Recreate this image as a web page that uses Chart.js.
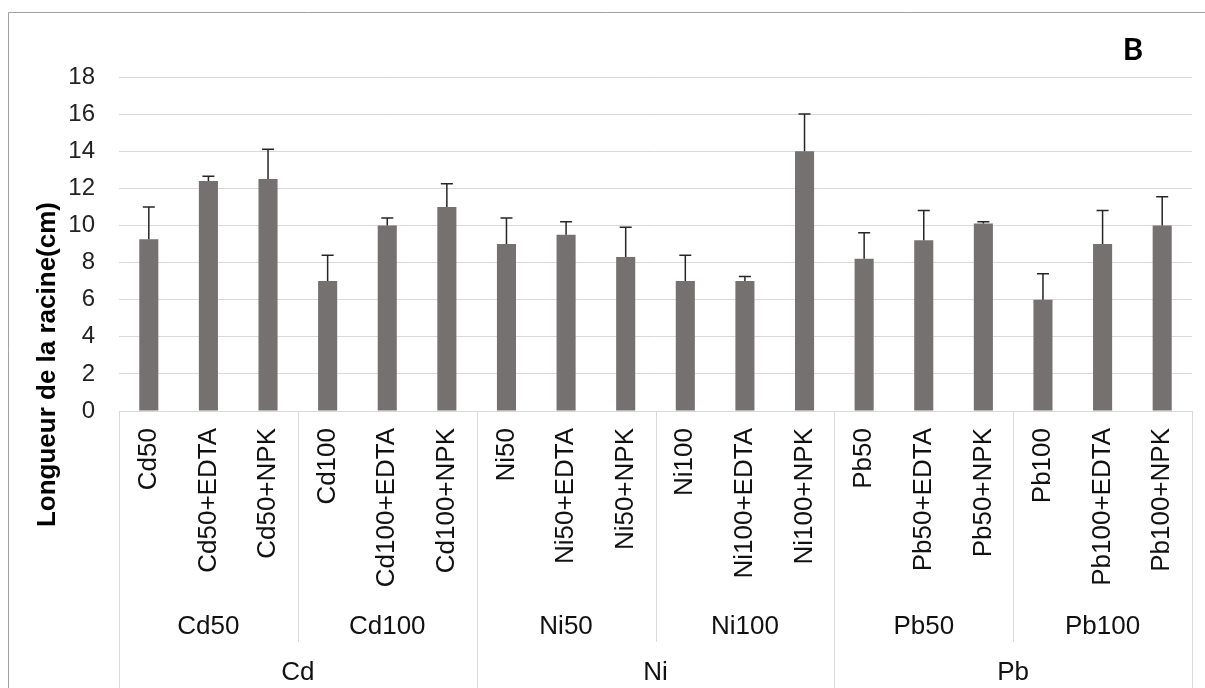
<!DOCTYPE html>
<html lang="fr">
<head>
    <meta charset="UTF-8">
    <title>Longueur de la racine</title>
    <script src="https://cdn.jsdelivr.net/npm/chart.js"></script>
    <style>
        body{margin:0;background:#fff}
        #box{width:1205px;height:688px}
    </style>
</head>
<body>
<div id="box"><canvas id="racineChart"></canvas></div>
<script>
    // valeurs
    const traitements=["Cd50","Cd50+EDTA","Cd50+NPK","Cd100","Cd100+EDTA","Cd100+NPK",
        "Ni50","Ni50+EDTA","Ni50+NPK","Ni100","Ni100+EDTA","Ni100+NPK",
        "Pb50","Pb50+EDTA","Pb50+NPK","Pb100","Pb100+EDTA","Pb100+NPK"]
    const doses=["Cd50","Cd100","Ni50","Ni100","Pb50","Pb100"]
    const metaux=["Cd","Ni","Pb"]
    const longueur=[9.25,12.4,12.5,7.0,10.0,11.0,9.0,9.5,8.3,7.0,7.0,14.0,8.2,9.2,10.1,6.0,9.0,10.0]
    const ecart=[1.75,0.25,1.6,1.4,0.4,1.25,1.4,0.7,1.6,1.4,0.25,2.0,1.4,1.6,0.1,1.4,1.8,1.55]
    const yTicks=[0,2,4,6,8,10,12,14,16,18]

    const police='"Liberation Sans", Arial, sans-serif'
    const gris="#d9d9d9"

    const barresErreur={
        id:"barresErreur",
        afterDatasetsDraw(chart){
            const ctx=chart.ctx
            const y=chart.scales.y
            const meta=chart.getDatasetMeta(0)
            ctx.save()
            ctx.strokeStyle="#262626"
            ctx.lineWidth=1.5
            meta.data.forEach((bar,i)=>{
                const y0=y.getPixelForValue(longueur[i])
                const y1=y.getPixelForValue(longueur[i]+ecart[i])
                ctx.beginPath()
                ctx.moveTo(bar.x,y0)
                ctx.lineTo(bar.x,y1)
                ctx.moveTo(bar.x-6,y1)
                ctx.lineTo(bar.x+6,y1)
                ctx.stroke()
            })
            ctx.restore()
        }
    }

    const axeHierarchique={
        id:"axeHierarchique",
        afterDraw(chart){
            const ctx=chart.ctx
            const x=chart.scales.x
            const area=chart.chartArea
            const pas=x.getPixelForValue(1)-x.getPixelForValue(0)
            const bord=i=>x.getPixelForValue(i)-pas/2
            const base=area.bottom
            const basNiv2=642
            const bas=chart.height

            ctx.save()
            // séparateurs
            ctx.strokeStyle=gris
            ctx.lineWidth=1
            for(let i=0;i<=traitements.length;i+=3){
                const xx=Math.round(bord(i))+0.5
                ctx.beginPath()
                ctx.moveTo(xx,base)
                ctx.lineTo(xx,i%6===0?bas:basNiv2)
                ctx.stroke()
            }

            ctx.fillStyle="#111"
            ctx.font="26px "+police
            // niveau 1 : étiquettes verticales
            traitements.forEach((t,i)=>{
                ctx.save()
                ctx.translate(x.getPixelForValue(i),428)
                ctx.rotate(-Math.PI/2)
                ctx.textAlign="right"
                ctx.textBaseline="middle"
                ctx.fillText(t,0,0)
                ctx.restore()
            })
            ctx.textAlign="center"
            ctx.textBaseline="middle"
            // niveau 2
            doses.forEach((d,k)=>{
                const xc=(bord(k*3)+bord(k*3+3))/2
                ctx.fillText(d,xc,627)
            })
            // niveau 3
            metaux.forEach((m,k)=>{
                const xc=(bord(k*6)+bord(k*6+6))/2
                ctx.fillText(m,xc,673)
            })

            // titre de l'axe y
            ctx.save()
            ctx.translate(48,202)
            ctx.rotate(-Math.PI/2)
            ctx.font="bold 26px "+police
            ctx.textAlign="right"
            ctx.textBaseline="middle"
            ctx.fillStyle="#000"
            ctx.fillText("Longueur de la racine(cm)",0,0)
            ctx.restore()

            // lettre du panneau
            ctx.font="bold 31px Lato, sans-serif"
            ctx.textBaseline="alphabetic"
            ctx.fillStyle="#000"
            ctx.fillText("B",1133,60)

            // cadre extérieur
            ctx.strokeStyle="#a0a0a0"
            ctx.beginPath()
            ctx.moveTo(8.5,bas)
            ctx.lineTo(8.5,12.5)
            ctx.lineTo(chart.width,12.5)
            ctx.stroke()
            ctx.restore()
        }
    }

    const ctx=document.getElementById("racineChart").getContext("2d")
    new Chart(ctx,{
        type:"bar",
        data:{
            labels:traitements,
            datasets:[{
                label:"Longueur de la racine(cm)",
                data:longueur,
                backgroundColor:"#767171",
                borderWidth:0,
                categoryPercentage:1,
                barPercentage:0.32
            }]
        },
        options:{
            responsive:true,
            maintainAspectRatio:false,
            animation:false,
            devicePixelRatio:1,
            layout:{padding:{left:0,right:13,top:77,bottom:277}},
            plugins:{legend:{display:false},tooltip:{enabled:false}},
            scales:{
                x:{display:false},
                y:{
                    min:0,
                    max:18,
                    afterBuildTicks:s=>{s.ticks=yTicks.map(v=>({value:v}))},
                    afterFit:s=>{s.width=119},
                    border:{display:false},
                    grid:{color:gris,lineWidth:1,drawTicks:false},
                    ticks:{
                        padding:24,
                        color:"#222",
                        font:{family:police,size:24}
                    }
                }
            }
        },
        plugins:[barresErreur,axeHierarchique]
    })
</script>
</body>
</html>
